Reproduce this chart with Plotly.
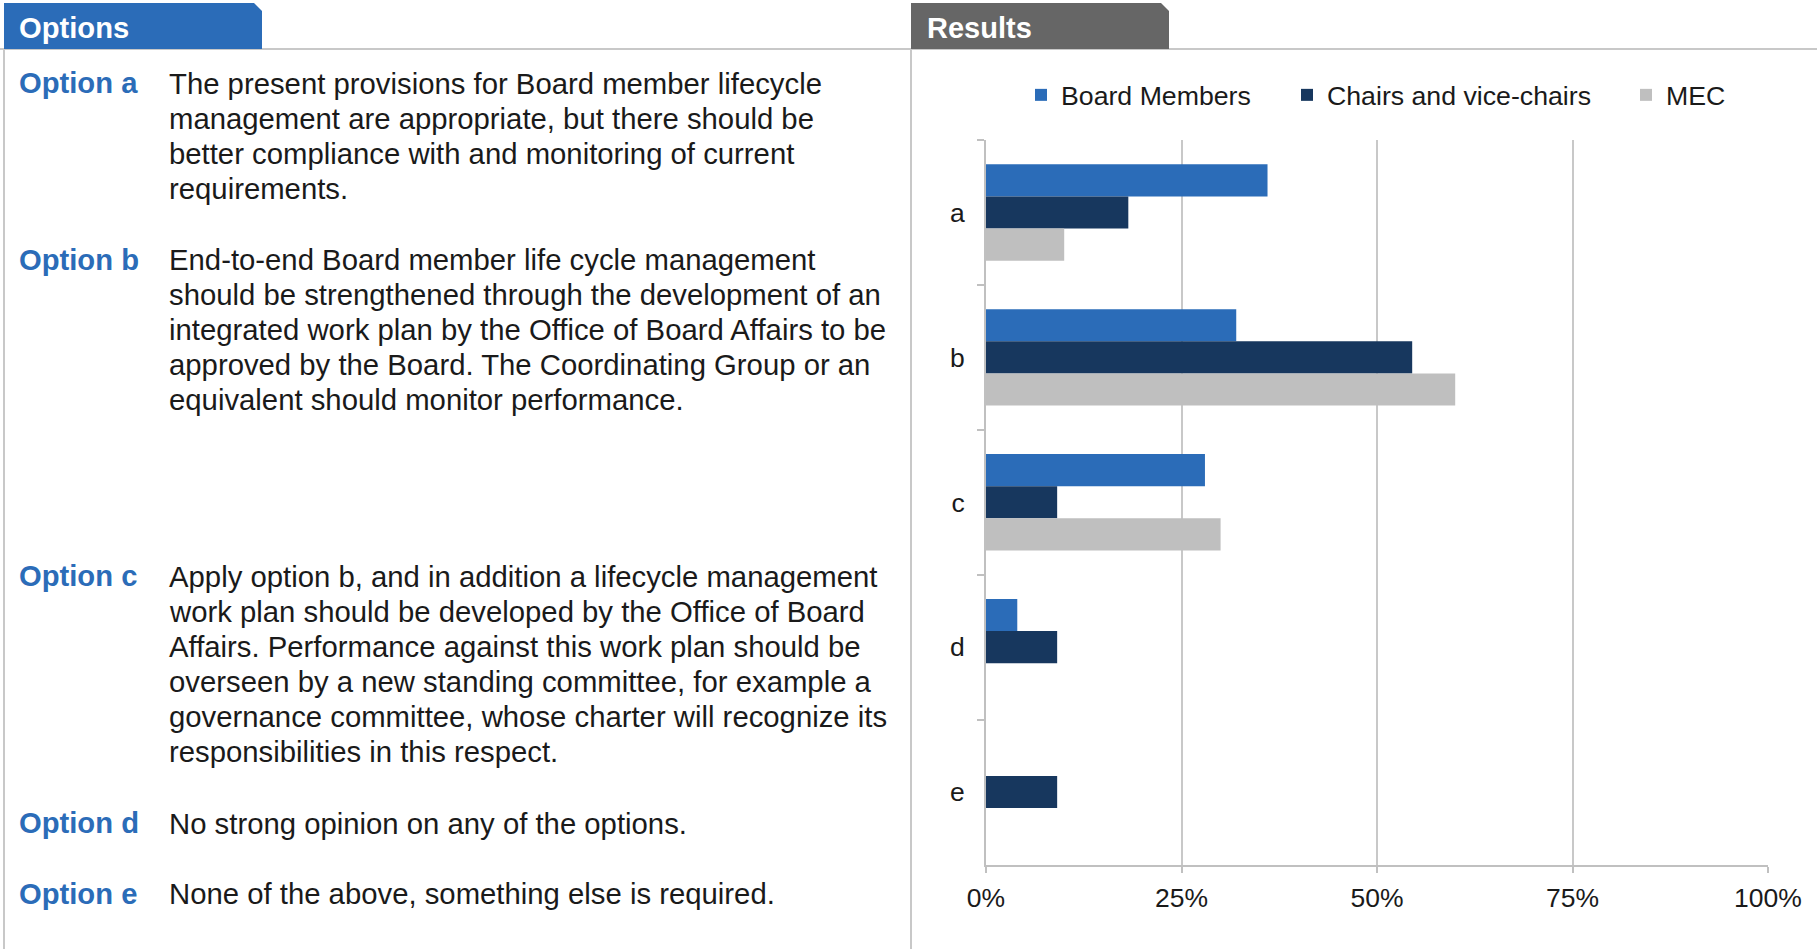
import plotly.graph_objects as go

W, H = 1817, 949

# ---- data ----
categories = ["a", "b", "c", "d", "e"]
series_names = ["Board Members", "Chairs and vice-chairs", "MEC"]
board_members = [36, 32, 28, 4, 0]
chairs = [18.2, 54.5, 9.1, 9.1, 9.1]
mec = [10, 60, 30, 0, 0]
series_colors = ["#2B6CB8", "#17375E", "#BFBFBF"]
x_ticks = [0, 25, 50, 75, 100]
x_tick_labels = ["0%", "25%", "50%", "75%", "100%"]

option_labels = ["Option a", "Option b", "Option c", "Option d", "Option e"]
option_texts = [
    ["The present provisions for Board member lifecycle",
     "management are appropriate, but there should be",
     "better compliance with and monitoring of current",
     "requirements."],
    ["End-to-end Board member life cycle management",
     "should be strengthened through the development of an",
     "integrated work plan by the Office of Board Affairs to be",
     "approved by the Board. The Coordinating Group or an",
     "equivalent should monitor performance."],
    ["Apply option b, and in addition a lifecycle management",
     "work plan should be developed by the Office of Board",
     "Affairs. Performance against this work plan should be",
     "overseen by a new standing committee, for example a",
     "governance committee, whose charter will recognize its",
     "responsibilities in this respect."],
    ["No strong opinion on any of the options."],
    ["None of the above, something else is required."],
]
option_first_line_y = [83, 259.5, 576, 823, 893.5]
LINE_H = 35.1

FONT = "Liberation Sans, Arial, sans-serif"


def px(x):
    return x / W


def py(y):
    return 1 - y / H


fig = go.Figure()
values = [board_members, chairs, mec]
legend_ids = ["legend", "legend2", "legend3"]
legend_text_x = [1063, 1329, 1668]
for name, vals, col, lg in zip(series_names, values, series_colors, legend_ids):
    fig.add_trace(go.Bar(
        y=categories, x=vals, name=name, orientation="h",
        marker=dict(color=col, line=dict(width=0)),
        legend=lg,
    ))

# plot area in pixels
PX0, PX1 = 986, 1768
PY0, PY1 = 140, 864.5

legend_common = dict(
    orientation="h", yanchor="middle", xanchor="left",
    font=dict(family=FONT, size=26.7, color="#1A1A1A"),
    bgcolor="rgba(0,0,0,0)", itemwidth=30,
)
legends = {}
for lg, tx in zip(legend_ids, legend_text_x):
    legends[lg] = dict(legend_common, x=px(tx - 42), y=py(95))

fig.update_layout(
    width=W, height=H,
    template="none",
    margin=dict(l=0, r=0, t=0, b=0, pad=0, autoexpand=False),
    paper_bgcolor="white", plot_bgcolor="white",
    barmode="group", bargap=0.335, bargroupgap=0,
    font=dict(family=FONT, size=26, color="#1A1A1A"),
    showlegend=True,
    xaxis=dict(
        domain=[px(PX0), px(PX1)], range=[0, 100],
        tickvals=x_ticks, ticktext=x_tick_labels,
        showgrid=True, gridcolor="#C8C8C8", gridwidth=1.5,
        showline=True, linecolor="#C0C0C0", linewidth=2,
        ticks="outside", ticklen=6, tickcolor="#C0C0C0", tickwidth=1.5,
        tickfont=dict(family=FONT, size=26.5, color="#1A1A1A"),
        ticklabelstandoff=3, zeroline=False, fixedrange=True, automargin=False,
    ),
    yaxis=dict(
        domain=[py(PY1), py(PY0)],
        categoryorder="array", categoryarray=categories, autorange="reversed",
        showline=True, linecolor="#C0C0C0", linewidth=2,
        ticks="outside", ticklen=7, tickcolor="#C0C0C0", tickwidth=1.5,
        tickson="boundaries", showgrid=False, zeroline=False,
        tickfont=dict(family=FONT, size=26.5, color="#1A1A1A"),
        ticklabelstandoff=14, fixedrange=True, automargin=False,
    ),
    **legends,
)

shapes = []
border = "#C8C8C8"
# header line
shapes.append(dict(type="line", xref="paper", yref="paper", x0=0, x1=1,
                   y0=py(49), y1=py(49), line=dict(color=border, width=2)))
# left border
shapes.append(dict(type="line", xref="paper", yref="paper", x0=px(4), x1=px(4),
                   y0=py(49), y1=0, line=dict(color=border, width=2)))
# separator
shapes.append(dict(type="line", xref="paper", yref="paper", x0=px(911), x1=px(911),
                   y0=py(49), y1=0, line=dict(color=border, width=2)))


def tab_path(x0, x1, y0, y1, cut=8):
    pts = [(x0, y1), (x0, y0), (x1 - cut, y0), (x1, y0 + cut), (x1, y1)]
    s = "M " + " L ".join(f"{px(a):.6f},{py(b):.6f}" for a, b in pts) + " Z"
    return s


shapes.append(dict(type="path", xref="paper", yref="paper",
                   path=tab_path(4, 262, 3, 49), fillcolor="#2B6CB8",
                   line=dict(width=0)))
shapes.append(dict(type="path", xref="paper", yref="paper",
                   path=tab_path(911, 1169, 3, 49), fillcolor="#666666",
                   line=dict(width=0)))
fig.update_layout(shapes=shapes)

ann = []
ann.append(dict(text="<b>Options</b>", x=px(17), y=py(28), xref="paper", yref="paper",
                xanchor="left", yanchor="middle", showarrow=False,
                font=dict(family=FONT, size=29.2, color="white")))
ann.append(dict(text="<b>Results</b>", x=px(925), y=py(28), xref="paper", yref="paper",
                xanchor="left", yanchor="middle", showarrow=False,
                font=dict(family=FONT, size=29.0, color="white")))

for lab, lines, y0 in zip(option_labels, option_texts, option_first_line_y):
    ann.append(dict(text=f"<b>{lab}</b>", x=px(17), y=py(y0), xref="paper", yref="paper",
                    xanchor="left", yanchor="middle", showarrow=False,
                    font=dict(family=FONT, size=29.2, color="#2B6CB8")))
    for i, ln in enumerate(lines):
        ann.append(dict(text=ln, x=px(167), y=py(y0 + i * LINE_H), xref="paper", yref="paper",
                        xanchor="left", yanchor="middle", showarrow=False,
                        font=dict(family=FONT, size=29.3, color="#1A1A1A")))
fig.update_layout(annotations=ann)

fig.write_html("out.html", include_plotlyjs=True,
               config={"displayModeBar": False},
               post_script="document.body.style.margin='0';document.body.style.overflow='hidden';")
